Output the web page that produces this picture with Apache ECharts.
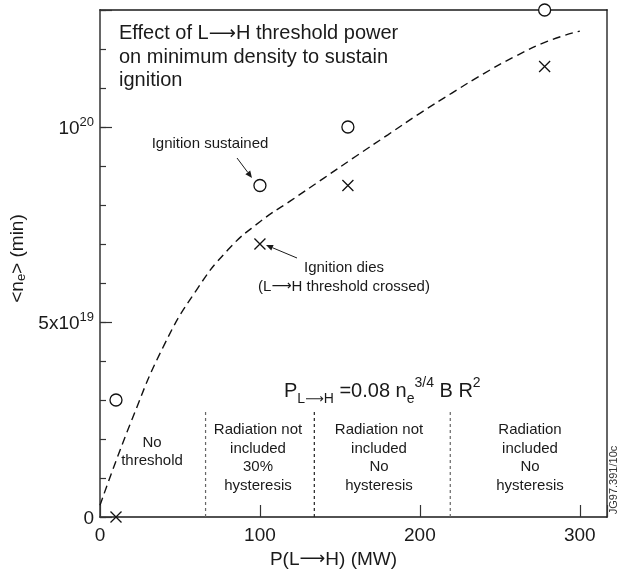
<!DOCTYPE html>
<html>
<head>
<meta charset="utf-8">
<script src="https://cdn.jsdelivr.net/npm/echarts@6/dist/echarts.min.js"></script>
<style>html,body{margin:0;padding:0;background:#fff;overflow:hidden}#c{width:627px;height:571px}</style>
</head>
<body>
<div id="c"></div>
<script>
// ---- data ----
const sustainedP = [10, 100, 155, 278];
const sustainedN = [3.0e19, 8.5e19, 1.0e20, 1.3e20];
const diesP = [10, 100, 155, 278];
const diesN = [0, 7.0e19, 8.5e19, 1.155e20];
const curveP = [0, 20, 40, 60, 80, 100, 120, 140, 160, 180, 200, 220, 240, 260, 280, 300];
const curveN = [0.3e19, 2.5e19, 4.4e19, 5.8e19, 6.85e19, 7.57e19, 8.13e19, 8.69e19, 9.25e19, 9.8e19, 10.35e19, 10.87e19, 11.37e19, 11.82e19, 12.2e19, 12.46e19];
const dividerP = [66, 134, 219];
const dividerTop = 2.7e19;
const xTicks = [0, 100, 200, 300];

const FONT = '"Liberation Sans", Arial, Helvetica, sans-serif';
const ARROWFONT = '"DejaVu Sans", sans-serif';
const INK = '#1a1a1a';
const chart = echarts.init(document.getElementById('c'));

const zip = (a, b) => a.map((v, i) => [v, b[i]]);
const dividerColors = ['#666', '#222', '#666'];
const dividerSeries = dividerP.map((p, i) => ({
  type: 'line', data: [[p, 0], [p, dividerTop]], symbol: 'none', silent: true,
  lineStyle: {color: dividerColors[i], width: 1.2, type: [3, 3]}, z: 1
}));

function arrow(x1, y1, x2, y2) {
  const a = Math.atan2(y2 - y1, x2 - x1), L = 7, W = 3;
  const bx = x2 - L * Math.cos(a), by = y2 - L * Math.sin(a);
  const px = -Math.sin(a) * W, py = Math.cos(a) * W;
  return [
    {type: 'line', shape: {x1, y1, x2: bx, y2: by}, style: {stroke: INK, lineWidth: 1}},
    {type: 'polygon', shape: {points: [[x2, y2], [bx + px, by + py], [bx - px, by - py]]}, style: {fill: INK}}
  ];
}
function arrowRich(size) {
  return {a: {fontFamily: ARROWFONT, fontSize: size, fill: INK, color: INK}};
}
function txt(x, y, text, size, lh, align) {
  return {type: 'text', x, y, style: {text, font: size + 'px ' + FONT, fill: INK, align: align || 'center',
    verticalAlign: 'middle', lineHeight: lh || 18.5, rich: arrowRich(size - 1)}};
}

const option = {
  animation: false,
  grid: {left: 100, right: 20, top: 10, bottom: 54, containLabel: false, outerBoundsMode: 'none'},
  xAxis: [{
    type: 'value', min: 0, max: 317, interval: 100,
    axisLine: {show: true, onZero: false, lineStyle: {color: INK, width: 1.5}},
    axisTick: {show: true, inside: true, length: 12, lineStyle: {color: '#333', width: 1.2}},
    splitLine: {show: false},
    axisLabel: {color: INK, fontSize: 19, fontFamily: FONT, margin: 9,
      formatter: v => xTicks.includes(v) ? String(v) : ''},
    name: 'P(L{a|⟶}H) (MW)', nameLocation: 'middle', nameGap: 31,
    nameTextStyle: {color: INK, fontSize: 19, fontFamily: FONT, padding: [0, 40, 0, 0],
      rich: {a: {fontFamily: ARROWFONT, fontSize: 18, color: INK}}}
  }, {
    type: 'value', min: 0, max: 317, position: 'top',
    axisLine: {show: true, onZero: false, lineStyle: {color: INK, width: 1.5}},
    axisTick: {show: false}, axisLabel: {show: false}, splitLine: {show: false}
  }],
  yAxis: [{
    type: 'value', min: 0, max: 1.3e20, interval: 1e19,
    axisLine: {show: true, onZero: false, lineStyle: {color: '#666', width: 2}},
    axisTick: {show: true, inside: true, length: 6, lineStyle: {color: '#333', width: 1.2}},
    splitLine: {show: false},
    axisLabel: {margin: 6, fontFamily: FONT,
      formatter: v => {
        if (v === 0) return '{b|0}';
        if (Math.abs(v - 5e19) < 1e15) return '{b|5x10}{sup|19}';
        if (Math.abs(v - 1e20) < 1e15) return '{b|10}{sup|20}';
        return '';
      },
      rich: {
        b: {fontSize: 19, color: INK, fontFamily: FONT, lineHeight: 22, verticalAlign: 'bottom'},
        sup: {fontSize: 13, color: INK, fontFamily: FONT, lineHeight: 12, verticalAlign: 'top'}
      }},
    name: '<n{s|e}> (min)', nameLocation: 'middle', nameRotate: 90, nameGap: 60,
    nameTextStyle: {color: INK, fontSize: 19, fontFamily: FONT, padding: [0, 0, 0, 10],
      rich: {s: {fontSize: 13, color: INK, fontFamily: FONT, lineHeight: 8, verticalAlign: 'bottom'}}}
  }, {
    type: 'value', min: 0, max: 1.3e20, interval: 5e19, position: 'left',
    axisLine: {show: false, onZero: false},
    axisTick: {show: true, inside: true, length: 12, lineStyle: {color: '#333', width: 1.2}},
    axisLabel: {show: false}, splitLine: {show: false}
  }, {
    type: 'value', min: 0, max: 1.3e20, position: 'right',
    axisLine: {show: true, onZero: false, lineStyle: {color: '#666', width: 2}},
    axisTick: {show: false}, axisLabel: {show: false}, splitLine: {show: false}
  }],
  series: [
    {type: 'line', data: zip(curveP, curveN), smooth: 0.5, symbol: 'none', silent: true,
     lineStyle: {color: '#111', width: 1.4, type: [8, 5]}, z: 2},
    ...dividerSeries,
    {type: 'scatter', data: zip(sustainedP, sustainedN), symbol: 'circle', symbolSize: 12, clip: false,
     itemStyle: {color: '#fff', borderColor: '#111', borderWidth: 1.3, opacity: 1}, z: 5},
    {type: 'scatter', data: zip(diesP, diesN), symbol: 'path://M0,0L10,10M10,0L0,10', symbolSize: 11, clip: false,
     itemStyle: {color: 'none', borderColor: '#111', borderWidth: 1.3, opacity: 1}, z: 5}
  ]
};

const G = [];
G.push({type: 'text', x: 119, y: 22, style: {
  text: 'Effect of L{a|⟶}H threshold power\non minimum density to sustain\nignition',
  font: '20px ' + FONT, fill: INK, align: 'left', verticalAlign: 'top', lineHeight: 23.5, rich: arrowRich(19)}});
G.push(txt(210, 144, 'Ignition sustained', 15));
G.push(...arrow(237, 158, 252, 178));
G.push(txt(344, 277, 'Ignition dies\n(L{a|⟶}H threshold crossed)', 15, 19));
G.push(...arrow(297, 258, 266, 245));
G.push({type: 'text', x: 284, y: 391, style: {
  text: 'P{sub|L}{suba|⟶}{sub|H} =0.08 n{sub|e}{sup|3/4} B R{sup|2}', font: '20px ' + FONT, fill: INK, align: 'left', verticalAlign: 'middle',
  rich: {
    sub: {fontSize: 14, fontFamily: FONT, fill: INK, lineHeight: 6, verticalAlign: 'bottom'},
    suba: {fontSize: 13, fontFamily: ARROWFONT, fill: INK, lineHeight: 6, verticalAlign: 'bottom'},
    sup: {fontSize: 14, fontFamily: FONT, fill: INK, lineHeight: 22, verticalAlign: 'top'}
  }, lineHeight: 30}});
G.push(txt(152, 452, 'No\nthreshold', 15));
G.push(txt(258, 458, 'Radiation not\nincluded\n30%\nhysteresis', 15));
G.push(txt(379, 458, 'Radiation not\nincluded\nNo\nhysteresis', 15));
G.push(txt(530, 458, 'Radiation\nincluded\nNo\nhysteresis', 15));
G.push({type: 'text', x: 614, y: 480, rotation: Math.PI / 2, style: {text: 'JG97.391/10c', font: '11px ' + FONT, fill: '#333', align: 'center', verticalAlign: 'middle'}});
option.graphic = G;

chart.setOption(option);
</script>
</body>
</html>
